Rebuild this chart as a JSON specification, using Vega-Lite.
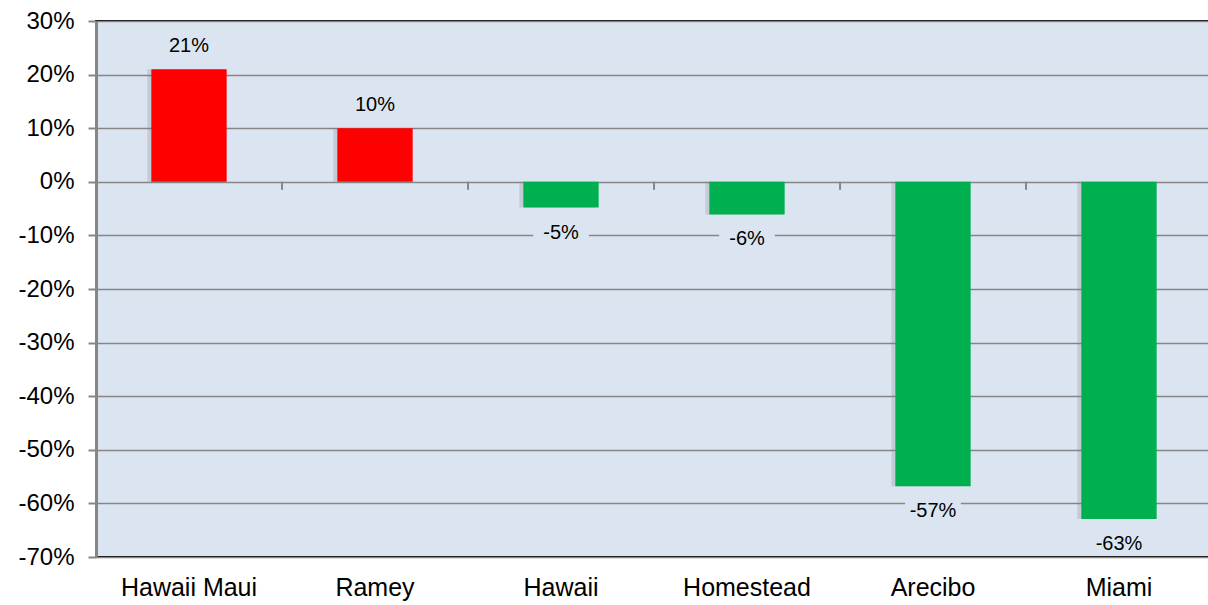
{
  "$schema": "https://vega.github.io/schema/vega-lite/v6.json",
  "width": 1116,
  "height": 536,
  "autosize": {"type": "none"},
  "padding": {"left": 96, "top": 21, "right": 0, "bottom": 48},
  "background": "white",
  "config": {
    "font": "Liberation Sans",
    "view": {"fill": "#dbe5f1", "stroke": "#000000", "strokeWidth": 2},
    "locale": {
      "number": {"decimal": ".", "thousands": ",", "grouping": [3], "currency": ["$", ""], "minus": "-"}
    }
  },
  "data": {
    "values": [
      {"station": "Hawaii Maui", "value": 0.21},
      {"station": "Ramey", "value": 0.10},
      {"station": "Hawaii", "value": -0.048},
      {"station": "Homestead", "value": -0.061},
      {"station": "Arecibo", "value": -0.568},
      {"station": "Miami", "value": -0.629}
    ]
  },
  "encoding": {
    "x": {
      "field": "station",
      "type": "nominal",
      "sort": null,
      "scale": {"paddingInner": 0.595, "paddingOuter": 0.2975},
      "axis": {
        "title": null,
        "labelAngle": 0,
        "labelFontSize": 25,
        "labelColor": "#000000",
        "labelPadding": 18,
        "ticks": false,
        "domain": false
      }
    }
  },
  "layer": [
    {
      "mark": {"type": "bar", "color": "#7f7f7f", "opacity": 0.25, "xOffset": -4},
      "encoding": {
        "y": {
          "field": "value",
          "type": "quantitative",
          "scale": {"domain": [-0.7, 0.3], "nice": false, "zero": false},
          "axis": {
            "title": null,
            "values": [-0.7, -0.6, -0.5, -0.4, -0.3, -0.2, -0.1, 0, 0.1, 0.2, 0.3],
            "format": ".0%",
            "labelFontSize": 24,
            "labelColor": "#000000",
            "labelPadding": 14,
            "tickSize": 8,
            "tickColor": "#868686",
            "tickWidth": 2,
            "domainColor": "#868686",
            "domainWidth": 3,
            "grid": true,
            "gridColor": "#868686",
            "gridWidth": 1.6
          }
        },
        "y2": {"datum": 0}
      }
    },
    {
      "mark": {"type": "bar"},
      "encoding": {
        "y": {"field": "value", "type": "quantitative"},
        "y2": {"datum": 0},
        "color": {
          "condition": {"test": "datum.value > 0", "value": "#ff0000"},
          "value": "#00b050"
        }
      }
    },
    {
      "mark": {"type": "rule", "color": "#868686", "strokeWidth": 2},
      "encoding": {
        "x": {"field": "station", "type": "nominal", "sort": null, "bandPosition": -0.734},
        "y": {"datum": 0},
        "y2": {"datum": -0.015}
      }
    },
    {
      "transform": [{"filter": "datum.value > 0"}],
      "mark": {"type": "text", "fontSize": 20, "color": "#000000", "yOffset": -23},
      "encoding": {
        "y": {"field": "value", "type": "quantitative"},
        "text": {"field": "value", "type": "quantitative", "format": ".0%"}
      }
    },
    {
      "transform": [{"filter": "datum.value < 0"}],
      "mark": {"type": "point", "shape": "M-1,-0.4H1V0.4H-1Z", "size": 3100, "filled": true, "color": "#dbe5f1", "opacity": 1, "yOffset": 25},
      "encoding": {
        "y": {"field": "value", "type": "quantitative"}
      }
    },
    {
      "transform": [{"filter": "datum.value < 0"}],
      "mark": {"type": "text", "fontSize": 20, "color": "#000000", "yOffset": 25},
      "encoding": {
        "y": {"field": "value", "type": "quantitative"},
        "text": {"field": "value", "type": "quantitative", "format": ".0%"}
      }
    }
  ]
}
